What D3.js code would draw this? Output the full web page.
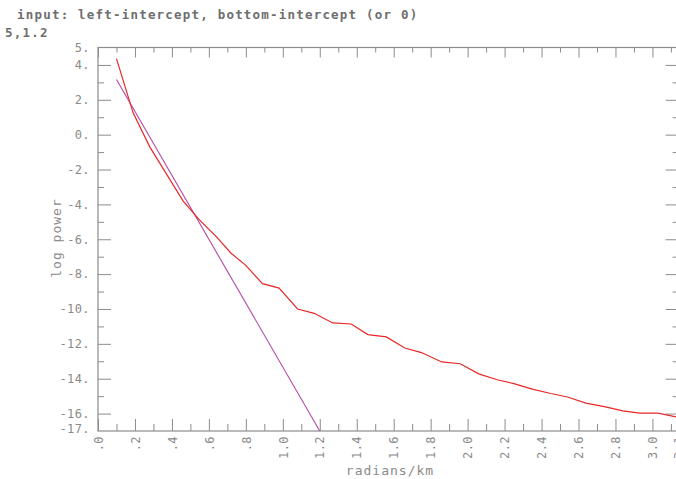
<!DOCTYPE html>
<html>
<head>
<meta charset="utf-8">
<script src="https://cdn.jsdelivr.net/npm/d3@7"></script>
<style>
  html, body { margin: 0; padding: 0; background: #fff; }
  svg { display: block; }
  text { font-family: "DejaVu Sans Mono", "Liberation Mono", monospace; }
</style>
</head>
<body>
<svg id="chart" width="676" height="479"></svg>
<script>
// ---- data ----
const titleLines = ["input: left-intercept, bottom-intercept (or 0)", "5,1.2"];
const xLabel = "radians/km";
const yLabel = "log power";

const freq = [0.10, 0.19, 0.28, 0.37, 0.46, 0.55, 0.64, 0.72, 0.80, 0.89, 0.98, 1.08, 1.17,
              1.27, 1.37, 1.46, 1.56, 1.66, 1.75, 1.86, 1.96, 2.06, 2.16, 2.25, 2.35, 2.45,
              2.54, 2.64, 2.74, 2.84, 2.93, 3.03, 3.13];
const logPower = [4.36, 1.25, -0.70, -2.25, -3.80, -4.90, -5.85, -6.80, -7.50, -8.55, -8.80, -10.00, -10.25,
                  -10.80, -10.86, -11.47, -11.60, -12.24, -12.50, -13.04, -13.14, -13.72, -14.06, -14.28, -14.60, -14.85,
                  -15.05, -15.40, -15.60, -15.85, -15.97, -15.98, -16.20];

// fitted line: left-intercept 5, bottom-intercept 1.2 (drawn from x = 0.1)
const fitX = [0.1, 1.2];
const fitY = [5 - 22 / 1.2 * 0.1, -17];

const xDomain = [0, 3.1416];
const yDomain = [-17, 5];
const xMajor = [0, 0.2, 0.4, 0.6, 0.8, 1.0, 1.2, 1.4, 1.6, 1.8, 2.0, 2.2, 2.4, 2.6, 2.8, 3.0];
const xMajorLabels = [".0", ".2", ".4", ".6", ".8", "1.0", "1.2", "1.4", "1.6", "1.8", "2.0", "2.2", "2.4", "2.6", "2.8", "3.0"];
const xMinor = [0.1, 0.3, 0.5, 0.7, 0.9, 1.1, 1.3, 1.5, 1.7, 1.9, 2.1, 2.3, 2.5, 2.7, 2.9, 3.1];
const xEndLabel = "3.1";
const yMajor = [4, 2, 0, -2, -4, -6, -8, -10, -12, -14, -16];
const yMinor = [3, 1, -1, -3, -5, -7, -9, -11, -13, -15];
const yEnds = [5, -17];

// ---- layout ----
const L = 98, R = 678.6, T = 47.5, B = 431;
const axisColor = "#8c8c8c";
const labelColor = "#8a8a8a";

const svg = d3.select("#chart");
const x = d3.scaleLinear().domain(xDomain).range([L, R]);
const y = d3.scaleLinear().domain(yDomain).range([B, T]);

// title
svg.selectAll("text.title").data(titleLines).join("text")
  .attr("class", "title")
  .attr("x", (d, i) => i === 0 ? 17 : 5)
  .attr("y", (d, i) => i === 0 ? 19 : 37)
  .attr("font-size", 12.5)
  .attr("font-weight", "bold")
  .attr("letter-spacing", 1.2)
  .attr("fill", "#6e6e6e")
  .text(d => d);

function styleAxis(g) {
  g.select(".domain").remove();
  g.selectAll(".tick line").attr("stroke", axisColor).attr("stroke-width", 1);
  g.selectAll(".tick text").attr("fill", labelColor).attr("font-size", 12).attr("letter-spacing", 0.4);
}

// frame
svg.append("rect")
  .attr("x", L).attr("y", T).attr("width", R - L).attr("height", B - T)
  .attr("fill", "none").attr("stroke", axisColor).attr("stroke-width", 1.2);

// left axis (major + end labels)
const yLab = d3.axisLeft(y).tickValues(yMajor.concat(yEnds)).tickSize(-13).tickPadding(8)
  .tickFormat(d => d + ".");
svg.append("g").attr("transform", `translate(${L},0)`).call(yLab).call(styleAxis)
  .call(g => g.selectAll(".tick").filter(d => yEnds.includes(d)).select("line").attr("x2", 0))
  .call(g => g.selectAll(".tick").filter(d => d === -17).select("text").attr("dy", "0.1em"));
svg.append("g").attr("transform", `translate(${L},0)`)
  .call(d3.axisLeft(y).tickValues(yMinor).tickSize(-6).tickFormat("")).call(styleAxis);

// right axis ticks
svg.append("g").attr("transform", `translate(${R},0)`)
  .call(d3.axisRight(y).tickValues(yMajor).tickSize(-13).tickFormat("")).call(styleAxis);
svg.append("g").attr("transform", `translate(${R},0)`)
  .call(d3.axisRight(y).tickValues(yMinor).tickSize(-6).tickFormat("")).call(styleAxis);

// top axis ticks
svg.append("g").attr("transform", `translate(0,${T})`)
  .call(d3.axisTop(x).tickValues(xMajor).tickSize(-10).tickFormat("")).call(styleAxis);
svg.append("g").attr("transform", `translate(0,${T})`)
  .call(d3.axisTop(x).tickValues(xMinor).tickSize(-5).tickFormat("")).call(styleAxis);

// bottom axis
const xTicks = xMajor.concat([xDomain[1]]);
const xLabs = xMajorLabels.concat([xEndLabel]);
svg.append("g").attr("transform", `translate(0,${B})`)
  .call(d3.axisBottom(x).tickValues(xTicks).tickSize(-12)
    .tickFormat((d, i) => xLabs[i]))
  .call(styleAxis)
  .call(g => g.selectAll(".tick").filter(d => d === xDomain[1]).select("line").attr("y2", 0))
  .call(g => g.selectAll(".tick text")
    .attr("transform", "rotate(-90)")
    .attr("text-anchor", "end")
    .attr("x", -5).attr("y", 0).attr("dy", "0.35em"));
svg.append("g").attr("transform", `translate(0,${B})`)
  .call(d3.axisBottom(x).tickValues(xMinor).tickSize(-7).tickFormat("")).call(styleAxis);

// axis titles
svg.append("text")
  .attr("x", 390).attr("y", 475)
  .attr("text-anchor", "middle")
  .attr("font-size", 13).attr("letter-spacing", 1.0)
  .attr("fill", labelColor)
  .text(xLabel);
svg.append("text")
  .attr("transform", "translate(61,238) rotate(-90)")
  .attr("text-anchor", "middle")
  .attr("font-size", 13).attr("letter-spacing", 1.0)
  .attr("fill", labelColor)
  .text(yLabel);

// lines
const clip = svg.append("clipPath").attr("id", "plotclip")
  .append("rect").attr("x", L).attr("y", T).attr("width", R - L).attr("height", B - T);

const line = d3.line().x(d => x(d[0])).y(d => y(d[1]));
svg.append("path")
  .datum(fitX.map((v, i) => [v, fitY[i]]))
  .attr("d", line)
  .attr("fill", "none").attr("stroke", "#b548a6").attr("stroke-width", 1.1);
svg.append("path")
  .datum(freq.map((v, i) => [v, logPower[i]]))
  .attr("clip-path", "url(#plotclip)")
  .attr("d", line)
  .attr("fill", "none").attr("stroke", "#e82828").attr("stroke-width", 1.2);
</script>
</body>
</html>
